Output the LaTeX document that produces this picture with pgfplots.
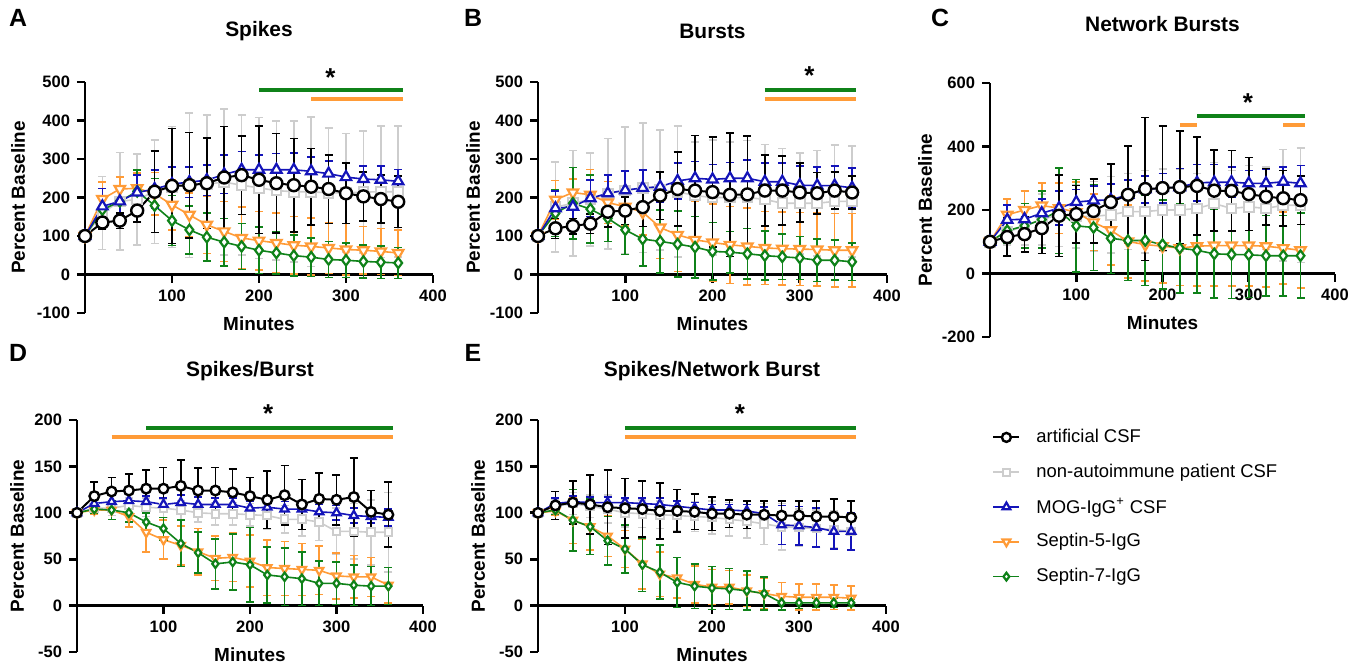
\documentclass[border=0pt]{standalone}
\usepackage{fontspec}
\setmainfont{Liberation Sans}
\usepackage{pgfplots}
\usepackage{pgfplotstable}
\pgfplotsset{compat=1.18}

\definecolor{cgrey}{RGB}{205,205,205}
\definecolor{cblue}{RGB}{20,20,185}
\definecolor{corange}{RGB}{255,155,55}
\definecolor{cgreen}{RGB}{15,130,25}

% columns: t, artificial CSF (a), non-autoimmune (n), MOG (m), Septin-5 (o), Septin-7 (g); *e = error
\pgfplotstableread{
t a ae n ne m me o oe g ge
0 100 0 100 0 100 0 100 0 100 0
20 135 17 160 95 177 46 196 45 168 30
40 140 20 190 127 190 35 222 32 190 30
60 166 30 195 118 213 45 224 40 216 55
80 215 106 215 134 222 50 210 55 179 70
100 230 149 227 157 235 45 181 65 140 65
120 232 137 232 188 240 40 155 56 116 62
140 237 118 235 180 245 40 129 74 97 62
160 252 132 240 190 260 50 112 78 84 62
180 258 102 232 182 272 47 95 80 73 60
200 246 139 225 183 272 38 88 76 63 60
220 237 129 218 180 272 42 82 77 56 55
240 232 121 215 183 272 44 76 75 49 53
260 228 99 215 194 268 38 73 74 45 50
280 222 89 212 168 262 33 69 66 39 47
300 211 78 212 154 253 36 65 67 37 45
320 203 64 214 158 248 34 63 62 34 43
340 196 62 215 171 246 36 60 60 32 42
360 189 67 215 170 242 31 56 59 30 40
}\spikes

\pgfplotstableread{
t a ae n ne m me o oe g ge
0 100 0 100 0 100 0 100 0 100 0
20 120 26 175 117 172 45 194 50 159 60
40 126 20 185 137 176 40 213 35 185 93
60 132 25 195 121 198 47 207 66 170 88
80 163 40 210 143 211 48 187 55 146 60
100 166 36 218 165 219 50 176 50 116 64
120 175 50 225 168 225 46 162 60 92 70
140 205 62 220 156 228 40 122 80 86 82
160 222 96 215 170 243 47 103 95 79 86
180 218 143 205 139 250 44 90 100 71 80
200 214 143 200 150 247 39 83 100 60 75
220 207 160 200 144 250 41 77 100 58 54
240 208 152 200 148 250 47 73 100 54 66
260 218 92 195 143 241 49 69 95 49 64
280 218 90 185 142 241 49 67 95 46 59
300 213 77 185 131 232 50 66 95 43 56
320 211 54 185 137 231 49 65 95 37 55
340 218 48 190 147 231 51 63 95 37 52
360 213 43 190 144 225 52 63 95 33 49
}\bursts

\pgfplotstableread{
t a ae n ne m me o oe g ge
0 100 0 100 0 100 0 100 0 100 0
20 115 60 130 40 169 47 185 50 135 40
40 124 56 150 60 171 40 200 60 150 70
60 143 80 170 80 190 45 214 72 170 90
80 182 128 185 100 206 53 206 80 198 135
100 187 90 180 100 225 40 193 96 150 146
120 197 101 180 110 230 45 161 89 145 135
140 225 119 185 120 232 50 136 109 111 111
160 248 154 195 120 248 47 101 115 104 126
180 266 225 195 130 265 42 91 115 104 142
200 269 196 200 130 269 46 86 115 91 140
220 272 177 200 130 272 59 80 118 80 141
240 276 154 205 110 286 57 86 126 73 134
260 261 128 220 130 287 56 88 128 62 139
280 260 127 205 120 288 48 88 128 60 139
300 250 115 210 130 284 40 88 128 59 135
320 242 89 205 130 284 45 86 128 56 127
340 237 87 215 175 289 47 80 113 56 127
360 231 77 215 180 284 56 73 118 56 134
}\netbursts

\pgfplotstableread{
t a ae n ne m me o oe g ge
0 100 0 100 0 100 0 100 0 100 0
20 118 15 105 5 110 6 103 4 104 4
40 123 15 105 8 112 7 103 10 103 10
60 124 18 108 8 113 7 96 11 100 10
80 126 20 106 10 112 6 79 21 90 10
100 126 23 105 10 109 7 71 21 83 12
120 129 28 103 10 111 8 65 21 67 25
140 124 24 100 10 109 8 58 25 57 22
160 124 25 99 12 109 7 51 24 45 27
180 122 25 99 12 109 7 52 26 47 30
200 118 20 98 12 105 7 48 28 44 40
220 114 31 97 15 106 8 41 30 33 30
240 119 32 93 15 104 8 40 29 31 31
260 109 27 93 18 104 8 39 28 29 29
280 115 28 90 20 101 8 38 26 24 24
300 114 27 80 25 100 8 32 25 24 23
320 117 42 80 30 97 8 31 23 22 22
340 101 23 79 35 96 7 31 21 21 21
360 98 35 79 43 95 9 22 19 21 20
}\spb

\pgfplotstableread{
t a ae n ne m me o oe g ge
0 100 0 100 0 100 0 100 0 100 0
20 108 15 107 8 110 6 102 5 103 5
40 111 23 110 12 112 6 92 25 92 33
60 109 32 107 12 111 6 85 25 85 30
80 106 40 104 15 111 6 75 22 70 26
100 105 32 100 15 111 5 61 20 61 26
120 104 30 99 15 110 6 45 27 44 29
140 102 30 98 15 109 7 34 24 36 29
160 102 23 97 16 107 6 30 22 25 27
180 101 19 96 16 105 6 23 20 21 24
200 99 18 95 18 103 6 20 19 19 23
220 99 15 93 18 103 6 20 18 18 22
240 98 15 91 18 102 7 16 17 16 21
260 98 15 88 22 99 7 13 16 13 18
280 97 16 85 25 87 21 10 15 3 8
300 97 16 84 20 86 21 9 14 3 6
320 96 17 83 20 84 21 9 14 3 5
340 96 19 82 20 80 19 9 13 3 5
360 95 18 80 20 80 20 8 13 3 4
}\spnb

\newcommand\msc{1}
\pgfplotsset{
  errs/.style={
    error bars/y dir=both, error bars/y explicit,
    error bars/error bar style={line width=0.8bp, solid},
    error bars/error mark options={rotate=90, mark size=2bp, line width=0.8bp}},
  acsf/.style={black, line width=1bp, mark=*, mark size=\msc*3bp,
    mark options={fill=white, line width=1.2bp}, errs},
  ncsf/.style={cgrey, line width=0.8bp, mark=square*, mark size=\msc*2.4bp,
    mark options={fill=white, line width=1bp}, errs},
  mog/.style={cblue, line width=0.8bp, mark=triangle*, mark size=\msc*3bp,
    mark options={fill=white, line width=1.1bp}, errs},
  sep5/.style={corange, line width=0.8bp, mark=triangle*, mark size=\msc*3bp,
    mark options={rotate=180, fill=white, line width=1.1bp}, errs},
  sep7/.style={cgreen, line width=0.8bp, mark=diamond*, mark size=\msc*2.6bp,
    mark options={fill=white, line width=1.1bp}, errs},
  panel/.style={
    scale only axis, anchor=south west, clip=false,
    axis x line*=middle, axis y line*=left,
    xmin=0, xmax=400, xtick={100,200,300,400},
    tick align=outside, major tick length=4bp,
    axis line style={line width=1.4bp},
    every tick/.style={line width=1.4bp, black},
    tick label style={font=\bfseries\fontsize{8.3}{9}\selectfont},
    /pgf/number format/assume math mode=true,
    label style={font=\bfseries\fontsize{9.5}{11}\selectfont},
    title style={font=\bfseries\fontsize{10.5}{12}\selectfont, anchor=center},
    ylabel={Percent Baseline}, xlabel={Minutes},
  },
  sigbar/.style={line width=2bp, forget plot},
  legend image code/.code={
    \draw[mark repeat=2, mark phase=2] plot coordinates {(0bp,0bp)(6.5bp,0bp)(13bp,0bp)};},
}

\newcommand\fiveplots[1]{%
  \addplot[ncsf] table[x=t, y=n, y error=ne]{#1};
  \addplot[sep5] table[x=t, y=o, y error=oe]{#1};
  \addplot[sep7] table[x=t, y=g, y error=ge]{#1};
  \addplot[mog]  table[x=t, y=m, y error=me]{#1};
  \addplot[acsf] table[x=t, y=a, y error=ae]{#1};
}
\newcommand\sigstar[1]{\node[font=\bfseries\fontsize{13}{13}\selectfont] at (#1) {*};}

\begin{document}
\begin{tikzpicture}
\path[use as bounding box] (0,0) rectangle (683.5bp,-335.5bp);

% A
\begin{axis}[panel, at={(42.5bp,-156.5bp)}, width=174bp, height=115.5bp,
  ymin=-100, ymax=500, ytick={-100,0,100,200,300,400,500},
  yticklabels={-100,0,100,200,300,400,500},
  title={Spikes},
  title style={at={(axis description cs:0.5,1.169)}},
  xlabel style={at={(axis description cs:0.5,-0.048)}, anchor=center},
  ylabel style={at={(axis description cs:-0.1925,0.5)}, anchor=center}]
\fiveplots{\spikes}
\addplot[sigbar, cgreen] coordinates {(200,478) (365,478)};
\addplot[sigbar, corange] coordinates {(260,456) (365,456)};
\sigstar{axis cs:282,512}
\end{axis}

% B
\begin{axis}[panel, at={(269bp,-156.5bp)}, width=174.5bp, height=115.5bp,
  ymin=-100, ymax=500, ytick={-100,0,100,200,300,400,500},
  yticklabels={-100,0,100,200,300,400,500},
  title={Bursts},
  title style={at={(axis description cs:0.5,1.169)}},
  xlabel style={at={(axis description cs:0.5,-0.048)}, anchor=center},
  ylabel style={at={(axis description cs:-0.186,0.5)}, anchor=center}]
\fiveplots{\bursts}
\addplot[sigbar, cgreen] coordinates {(260,479) (365,479)};
\addplot[sigbar, corange] coordinates {(260,456) (365,456)};
\sigstar{axis cs:311,516}
\end{axis}

% C
\begin{axis}[panel, at={(495bp,-168.5bp)}, width=172.5bp, height=127bp,
  ymin=-200, ymax=600, ytick={-200,0,200,400,600},
  yticklabels={-200,0,200,400,600},
  title={Network Bursts},
  title style={at={(axis description cs:0.5,1.185)}},
  xlabel style={at={(axis description cs:0.5,0.055)}, anchor=center},
  ylabel style={at={(axis description cs:-0.188,0.5)}, anchor=center}]
\fiveplots{\netbursts}
\addplot[sigbar, cgreen] coordinates {(240,496) (365,496)};
\addplot[sigbar, corange] coordinates {(220,469) (240,469)};
\addplot[sigbar, corange] coordinates {(340,469) (365,469)};
\sigstar{axis cs:299,538}
\end{axis}

\renewcommand\msc{0.8}
% D
\begin{axis}[panel, at={(38.5bp,-326bp)}, width=173bp, height=116bp,
  ymin=-50, ymax=200, ytick={-50,0,50,100,150,200},
  yticklabels={-50,0,50,100,150,200},
  title={Spikes/Burst},
  title style={at={(axis description cs:0.5,1.159)}},
  xlabel style={at={(axis description cs:0.5,-0.013)}, anchor=center},
  ylabel style={at={(axis description cs:-0.173,0.5)}, anchor=center}]
\fiveplots{\spb}
\addplot[sigbar, cgreen] coordinates {(80,191) (365,191)};
\addplot[sigbar, corange] coordinates {(40,182) (365,182)};
\sigstar{axis cs:221,207}
\end{axis}

% E
\begin{axis}[panel, at={(269bp,-326bp)}, width=174bp, height=116bp,
  ymin=-50, ymax=200, ytick={-50,0,50,100,150,200},
  yticklabels={-50,0,50,100,150,200},
  title={Spikes/Network Burst},
  title style={at={(axis description cs:0.5,1.159)}},
  xlabel style={at={(axis description cs:0.5,-0.013)}, anchor=center},
  ylabel style={at={(axis description cs:-0.172,0.5)}, anchor=center}]
\fiveplots{\spnb}
\addplot[sigbar, cgreen] coordinates {(100,191) (365,191)};
\addplot[sigbar, corange] coordinates {(100,182) (365,182)};
\sigstar{axis cs:232,207}
\end{axis}

% legend
\renewcommand\msc{0.75}
\begin{axis}[hide axis, scale only axis, width=10bp, height=10bp,
  at={(496bp,-209.8bp)}, anchor=north west,
  xmin=0, xmax=1, ymin=0, ymax=1,
  legend cell align=left,
  legend style={at={(0,1)}, anchor=north west, draw=none, fill=none,
    inner sep=0pt, column sep=8bp, row sep=0pt,
    font=\fontsize{9.25}{11}\selectfont,
    nodes={minimum height=17.4bp, inner sep=0pt}}]
\addlegendimage{acsf}\addlegendentry{artificial CSF}
\addlegendimage{ncsf}\addlegendentry{non-autoimmune patient CSF}
\addlegendimage{mog}\addlegendentry{MOG-IgG\textsuperscript{+} CSF}
\addlegendimage{sep5}\addlegendentry{Septin-5-IgG}
\addlegendimage{sep7}\addlegendentry{Septin-7-IgG}
\end{axis}

\begin{scope}[every node/.style={font=\bfseries\fontsize{12.5}{13}\selectfont}]
\node at (9bp,-9bp) {A};
\node at (236.5bp,-9bp) {B};
\node at (470bp,-9bp) {C};
\node at (9bp,-176.5bp) {D};
\node at (236.5bp,-176.5bp) {E};
\end{scope}
\end{tikzpicture}
\end{document}
